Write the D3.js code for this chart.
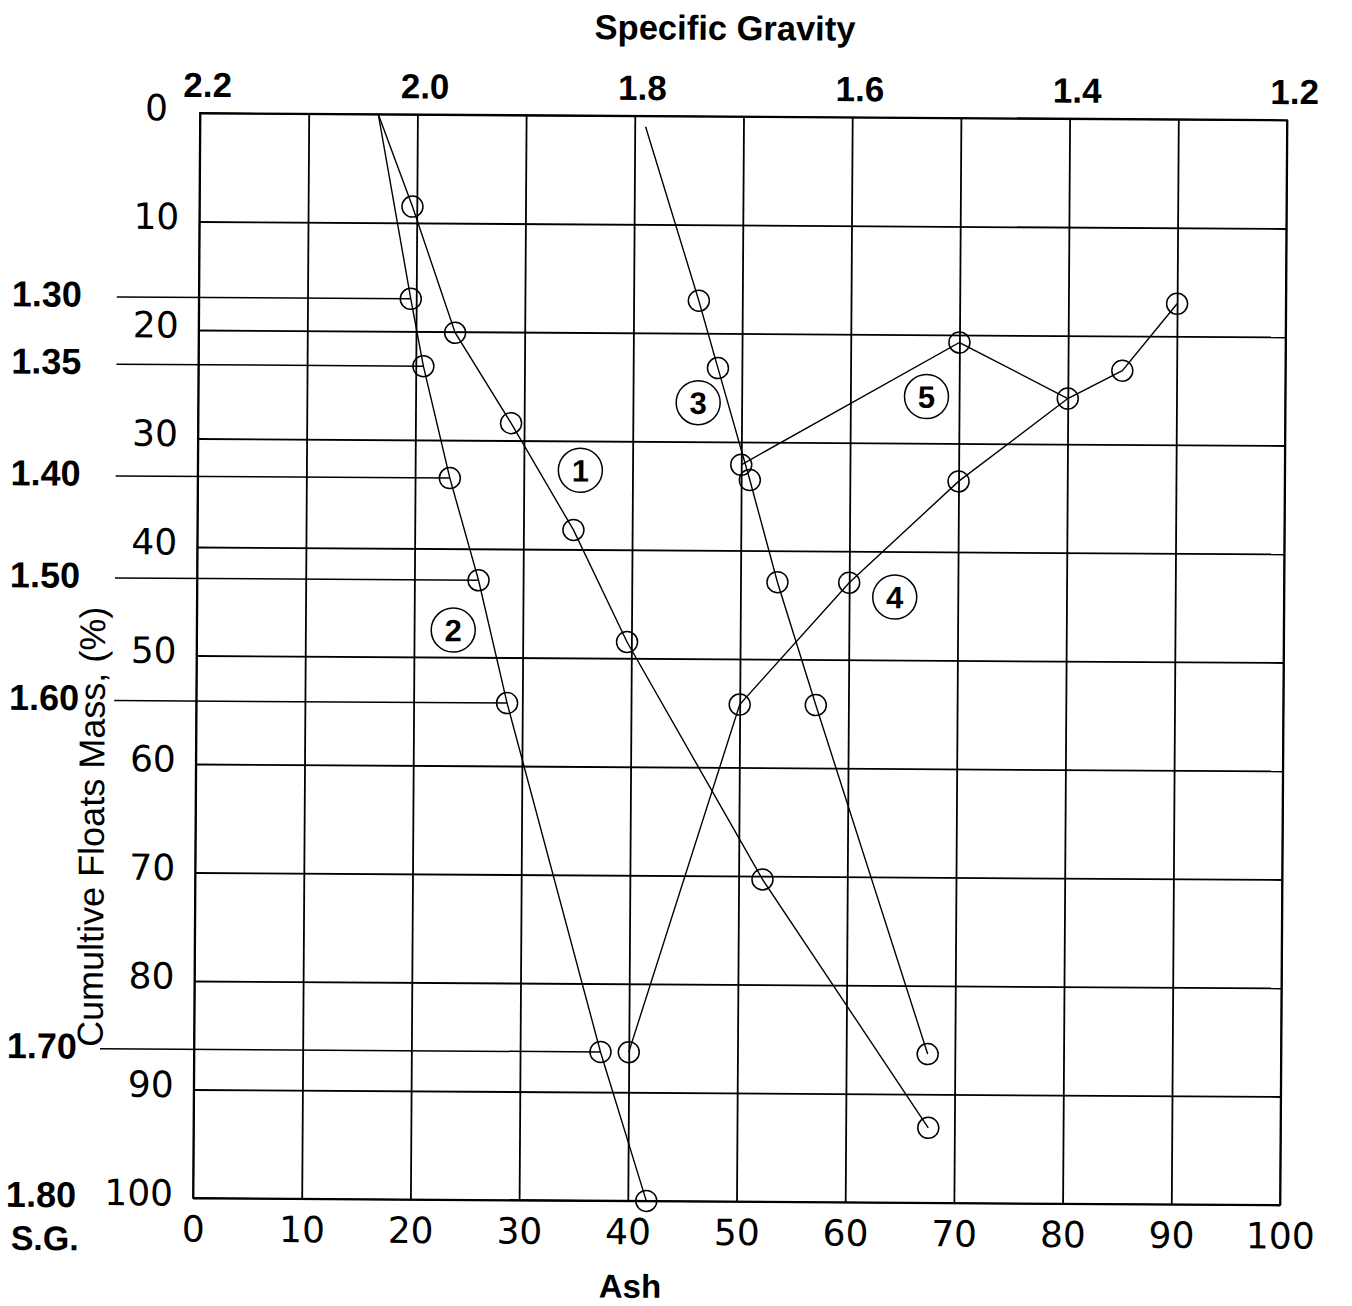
<!DOCTYPE html>
<html>
<head>
<meta charset="utf-8">
<script src="https://cdn.jsdelivr.net/npm/d3@7"></script>
<style>
  html, body { margin: 0; padding: 0; background: #fff; }
  svg { display: block; }
</style>
</head>
<body>
<svg id="chart" width="1352" height="1306"></svg>
<script>
// ---- data ---------------------------------------------------------------
const ashTicks = [0, 10, 20, 30, 40, 50, 60, 70, 80, 90, 100];
const massTicks = [0, 10, 20, 30, 40, 50, 60, 70, 80, 90, 100];
const sgTicks = [2.2, 2.0, 1.8, 1.6, 1.4, 1.2];

// specific gravity cuts and the cumulative floats mass (%) at each cut
const sgCuts = [1.30, 1.35, 1.40, 1.50, 1.60, 1.70, 1.80];
const cumFloats = [17.0, 23.2, 33.5, 42.9, 54.2, 86.3, 100];

// common starting point of curves 1 and 2 (ash %, mass %)
const startAsh12 = 16.4;
const startMass12 = 0;

// curve 1
const curve1Ash = [19.6, 23.6, 28.8, 34.6, 39.6, 52.2, 67.6];
const curve1Mass = [8.5, 20.1, 28.4, 38.2, 48.5, 70.3, 93.1];

// curve 2: cumulative floats ash at each specific gravity cut
const curve2Ash = [19.5, 20.7, 23.2, 25.9, 28.6, 37.4, 41.7];

// curve 3: starts near the top, then one point per cut (1.30 .. 1.70)
const curve3StartAsh = 41.0;
const curve3StartMass = 1.0;
const curve3Ash = [46.0, 47.8, 50.8, 53.4, 57.0, 67.5];

// curve 4: specific gravity curve (read on the top scale)
const curve4SG = [1.30, 1.35, 1.40, 1.50, 1.60, 1.70, 1.80];
const curve4Mass = [17.0, 23.2, 25.8, 33.5, 42.9, 54.2, 86.3];

// curve 5 (read on the top scale)
const curve5SG = [1.70, 1.50, 1.40];
const curve5Mass = [32.1, 20.7, 25.8];

// circled curve numbers and where they sit (ash %, mass %)
const curveNames = ["1", "2", "3", "4", "5"];
const nameAsh = [35.2, 23.6, 46.0, 64.2, 67.0];
const nameMass = [32.7, 47.5, 26.4, 44.2, 25.7];

// ---- layout -------------------------------------------------------------
const plot = { left: 196.5, right: 1283.5, top: 116.5, bottom: 1201.5 };
const W = plot.right - plot.left, H = plot.bottom - plot.top;

const x = d3.scaleLinear().domain([0, 100]).range([plot.left, plot.right]);
const sg = d3.scaleLinear().domain([2.2, 1.2]).range([plot.left, plot.right]);
const y = d3.scaleLinear().domain([0, 100]).range([plot.top, plot.bottom]);

const svg = d3.select("#chart");
// the whole sheet sits very slightly turned clockwise
const root = svg.append("g").attr("transform", "rotate(0.37, 740, 659)");

const numFont = "'DejaVu Sans', 'Liberation Sans', Arial, sans-serif";
const narrowBold = "'Liberation Sans Narrow', 'Liberation Sans', Arial, sans-serif";
const sansFont = "'Liberation Sans', Arial, sans-serif";

// ---- grid + axes --------------------------------------------------------
const gx = root.append("g")
  .attr("transform", `translate(0,${plot.bottom})`)
  .call(d3.axisBottom(x).tickValues(ashTicks).tickSizeInner(-H).tickSizeOuter(0).tickPadding(18).tickFormat(d3.format("d")));
gx.select(".domain").remove();
gx.selectAll("line").attr("stroke", "#000").attr("stroke-width", 1.8);
gx.selectAll("text").attr("font-family", numFont).attr("font-size", 36).attr("fill", "#000");

const gy = root.append("g")
  .attr("transform", `translate(${plot.left},0)`)
  .call(d3.axisLeft(y).tickValues(massTicks).tickSizeInner(-W).tickSizeOuter(0).tickPadding(20).tickFormat(d3.format("d")));
gy.select(".domain").remove();
gy.selectAll("line").attr("stroke", "#000").attr("stroke-width", 1.8);
gy.selectAll("text").attr("font-family", numFont).attr("font-size", 36).attr("fill", "#000")
  .attr("dy", "0.2em")
  .attr("dx", d => d === 0 ? -12 : 0);

const gt = root.append("g")
  .attr("transform", `translate(0,${plot.top})`)
  .call(d3.axisTop(sg).tickValues(sgTicks).tickSize(0).tickPadding(16).tickFormat(d3.format(".1f")));
gt.select(".domain").remove();
gt.selectAll("text").attr("font-family", narrowBold).attr("font-weight", "bold")
  .attr("font-size", 35).attr("fill", "#000").attr("dx", 7);

root.append("rect")
  .attr("x", plot.left).attr("y", plot.top).attr("width", W).attr("height", H)
  .attr("fill", "none").attr("stroke", "#000").attr("stroke-width", 1.8);

// ---- specific gravity cut lines and labels on the left -------------------
const cutIdx = d3.range(sgCuts.length);
root.append("g").selectAll("line")
  .data(cutIdx.filter(i => cumFloats[i] < 100))
  .join("line")
  .attr("x1", i => plot.left - (sgCuts[i] === 1.70 ? 94 : 82))
  .attr("x2", i => x(curve2Ash[i]))
  .attr("y1", i => y(cumFloats[i]))
  .attr("y2", i => y(cumFloats[i]))
  .attr("stroke", "#000").attr("stroke-width", 1.5);

root.append("g").selectAll("text")
  .data(cutIdx)
  .join("text")
  .attr("x", plot.left - 117)
  .attr("y", i => y(cumFloats[i]) - 3)
  .attr("dy", "0.36em")
  .attr("text-anchor", "end")
  .attr("font-family", narrowBold).attr("font-weight", "bold")
  .attr("font-size", 36).attr("fill", "#000")
  .text(i => sgCuts[i].toFixed(2));

root.append("text")
  .attr("x", plot.left - 114).attr("y", plot.bottom + 53)
  .attr("text-anchor", "end")
  .attr("font-family", narrowBold).attr("font-weight", "bold")
  .attr("font-size", 34).attr("fill", "#000")
  .text("S.G.");

// ---- curves -------------------------------------------------------------
const line = d3.line().x(d => d[0]).y(d => d[1]);

const c1 = [[x(startAsh12), y(startMass12)]].concat(curve1Ash.map((a, i) => [x(a), y(curve1Mass[i])]));
const c2 = [[x(startAsh12), y(startMass12)]].concat(curve2Ash.map((a, i) => [x(a), y(cumFloats[i])]));
const c3 = [[x(curve3StartAsh), y(curve3StartMass)]].concat(curve3Ash.map((a, i) => [x(a), y(cumFloats[i])]));
const c4 = curve4SG.map((s, i) => [sg(s), y(curve4Mass[i])]);
const c5 = curve5SG.map((s, i) => [sg(s), y(curve5Mass[i])]);

const curves = [c1, c2, c3, c4, c5];
root.append("g").selectAll("path")
  .data(curves)
  .join("path")
  .attr("d", line)
  .attr("fill", "none").attr("stroke", "#000").attr("stroke-width", 1.4);

// open circle markers (curves 1-3 skip their unmarked start point)
const markers = [].concat(c1.slice(1), c2.slice(1), c3.slice(1), c4, c5.slice(0, 2));
root.append("g").selectAll("circle")
  .data(markers)
  .join("circle")
  .attr("cx", d => d[0]).attr("cy", d => d[1]).attr("r", 10.5)
  .attr("fill", "none").attr("stroke", "#000").attr("stroke-width", 1.5);

// circled curve numbers
const tags = root.append("g").selectAll("g")
  .data(curveNames.map((n, i) => ({ n, a: nameAsh[i], m: nameMass[i] })))
  .join("g")
  .attr("transform", d => `translate(${x(d.a)},${y(d.m)})`);
tags.append("circle").attr("r", 22).attr("fill", "#fff").attr("stroke", "#000").attr("stroke-width", 1.5);
tags.append("text")
  .attr("text-anchor", "middle").attr("dy", "0.36em")
  .attr("font-family", sansFont).attr("font-weight", "bold")
  .attr("font-size", 31).attr("fill", "#000")
  .text(d => d.n);

// ---- titles -------------------------------------------------------------
root.append("text")
  .attr("x", 721).attr("y", 40)
  .attr("text-anchor", "middle")
  .attr("font-family", sansFont).attr("font-weight", "bold").attr("font-size", 34.5)
  .attr("fill", "#000")
  .text("Specific Gravity");

root.append("text")
  .attr("x", 634).attr("y", plot.bottom + 97)
  .attr("text-anchor", "middle")
  .attr("font-family", sansFont).attr("font-weight", "bold").attr("font-size", 33)
  .attr("fill", "#000")
  .text("Ash");

root.append("text")
  .attr("transform", `translate(105, 831) rotate(-90)`)
  .attr("text-anchor", "middle")
  .attr("font-family", sansFont).attr("font-size", 36)
  .attr("fill", "#000")
  .text("Cumultive Floats Mass, (%)");
</script>
</body>
</html>
